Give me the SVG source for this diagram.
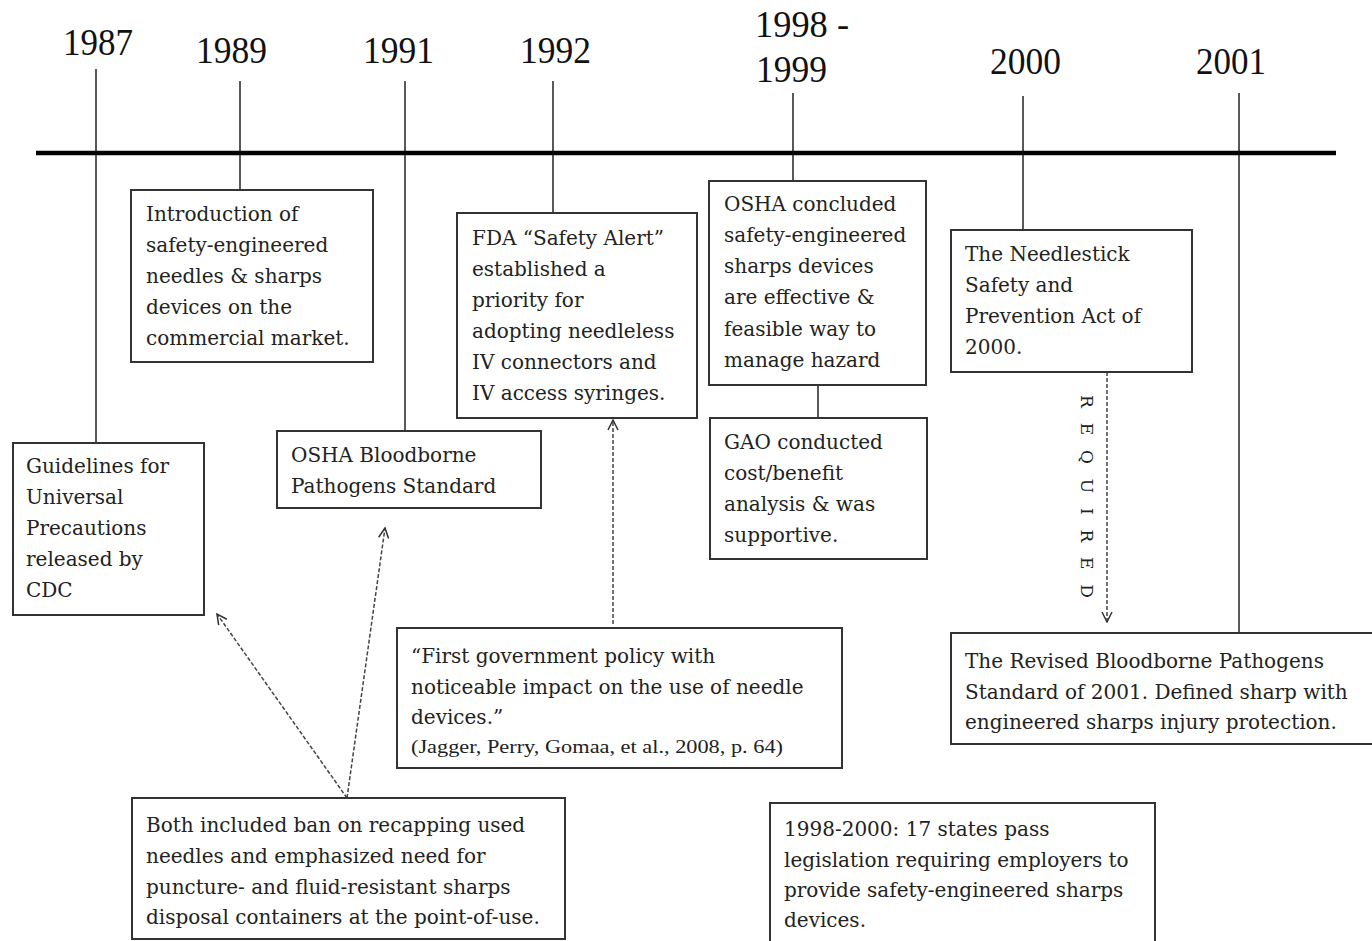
<svg xmlns="http://www.w3.org/2000/svg" width="1372" height="941" viewBox="0 0 1372 941">
<defs>
<style>
.yr{font-family:"Liberation Serif","Times New Roman",serif;font-size:38px;fill:#111}
.t{font-family:"DejaVu Serif","Liberation Serif",serif;font-size:20px;fill:#222}
.s{font-family:"Liberation Serif","Times New Roman",serif;font-size:18px;fill:#222}
.v{font-family:"DejaVu Serif","Liberation Serif",serif;font-size:17px;fill:#222}
.box{fill:#fff;stroke:#333;stroke-width:2}
.tick{stroke:#222;stroke-width:1.5;fill:none}
.dash{stroke:#444;stroke-width:1.5;fill:none;stroke-dasharray:4 2}
</style>
<marker id="arr" viewBox="0 0 12 12" refX="11" refY="6" markerWidth="12" markerHeight="12" markerUnits="userSpaceOnUse" orient="auto">
<path d="M1,1 L11,6 L1,11" fill="none" stroke="#333" stroke-width="1.5"/>
</marker>
</defs>
<rect width="1372" height="941" fill="#fff"/>

<g id="years">
<text class="yr" x="63" y="55" textLength="70" lengthAdjust="spacingAndGlyphs">1987</text>
<text class="yr" x="196" y="63" textLength="71" lengthAdjust="spacingAndGlyphs">1989</text>
<text class="yr" x="363" y="63" textLength="71" lengthAdjust="spacingAndGlyphs">1991</text>
<text class="yr" x="520" y="63" textLength="71" lengthAdjust="spacingAndGlyphs">1992</text>
<text class="yr" x="755" y="37" textLength="94" lengthAdjust="spacingAndGlyphs">1998 -</text>
<text class="yr" x="756" y="82" textLength="71" lengthAdjust="spacingAndGlyphs">1999</text>
<text class="yr" x="990" y="74" textLength="71" lengthAdjust="spacingAndGlyphs">2000</text>
<text class="yr" x="1196" y="74" textLength="70" lengthAdjust="spacingAndGlyphs">2001</text>
</g>

<g id="connectors">
<line x1="96" y1="69" x2="96" y2="443" class="tick"/>
<line x1="240" y1="81" x2="240" y2="190" class="tick"/>
<line x1="405" y1="81" x2="405" y2="431" class="tick"/>
<line x1="553" y1="81" x2="553" y2="213" class="tick"/>
<line x1="793" y1="93" x2="793" y2="181" class="tick"/>
<line x1="1023" y1="96" x2="1023" y2="230" class="tick"/>
<line x1="1239" y1="93" x2="1239" y2="633" class="tick"/>
<line x1="818" y1="385" x2="818" y2="418" class="tick"/>
<line x1="36" y1="153" x2="1336" y2="153" stroke="#000" stroke-width="4.5"/>
<line x1="1107" y1="372" x2="1107" y2="622" class="dash" marker-end="url(#arr)"/>
<line x1="613" y1="624" x2="613" y2="420" class="dash" marker-end="url(#arr)"/>
<line x1="347" y1="798" x2="217" y2="614" class="dash" marker-end="url(#arr)"/>
<line x1="347" y1="798" x2="385" y2="528" class="dash" marker-end="url(#arr)"/>
<text x="1081" y="395" transform="rotate(90 1081 395)" class="v" textLength="203" lengthAdjust="spacing">REQUIRED</text>
</g>

<g id="n1987">
<rect class="box" x="13" y="443" width="191" height="172"/>
<text class="t" x="26" y="473">Guidelines for</text>
<text class="t" x="26" y="504">Universal</text>
<text class="t" x="26" y="535">Precautions</text>
<text class="t" x="26" y="566">released by</text>
<text class="t" x="26" y="597">CDC</text>
</g>

<g id="n1989">
<rect class="box" x="131" y="190" width="242" height="172"/>
<text class="t" x="146" y="221">Introduction of</text>
<text class="t" x="146" y="252">safety-engineered</text>
<text class="t" x="146" y="283">needles &amp; sharps</text>
<text class="t" x="146" y="314">devices on the</text>
<text class="t" x="146" y="345">commercial market.</text>
</g>

<g id="n1991">
<rect class="box" x="277" y="431" width="264" height="77"/>
<text class="t" x="291" y="462">OSHA Bloodborne</text>
<text class="t" x="291" y="493">Pathogens Standard</text>
</g>

<g id="n1992">
<rect class="box" x="457" y="213" width="240" height="205"/>
<text class="t" x="472" y="245">FDA “Safety Alert”</text>
<text class="t" x="472" y="276">established a</text>
<text class="t" x="472" y="307">priority for</text>
<text class="t" x="472" y="338">adopting needleless</text>
<text class="t" x="472" y="369">IV connectors and</text>
<text class="t" x="472" y="400">IV access syringes.</text>
</g>

<g id="n1998">
<rect class="box" x="709" y="181" width="217" height="204"/>
<text class="t" x="724" y="211">OSHA concluded</text>
<text class="t" x="724" y="242">safety-engineered</text>
<text class="t" x="724" y="273">sharps devices</text>
<text class="t" x="724" y="304">are effective &amp;</text>
<text class="t" x="724" y="336">feasible way to</text>
<text class="t" x="724" y="367">manage hazard</text>
</g>

<g id="nGAO">
<rect class="box" x="710" y="418" width="217" height="141"/>
<text class="t" x="724" y="449">GAO conducted</text>
<text class="t" x="724" y="480">cost/benefit</text>
<text class="t" x="724" y="511">analysis &amp; was</text>
<text class="t" x="724" y="542">supportive.</text>
</g>

<g id="n2000">
<rect class="box" x="951" y="230" width="241" height="142"/>
<text class="t" x="965" y="261">The Needlestick</text>
<text class="t" x="965" y="292">Safety and</text>
<text class="t" x="965" y="323">Prevention Act of</text>
<text class="t" x="965" y="354">2000.</text>
</g>

<g id="n2001">
<rect class="box" x="951" y="633" width="424" height="111"/>
<text class="t" x="965" y="668">The Revised Bloodborne Pathogens</text>
<text class="t" x="965" y="699">Standard of 2001. Defined sharp with</text>
<text class="t" x="965" y="729">engineered sharps injury protection.</text>
</g>

<g id="nQuote">
<rect class="box" x="397" y="628" width="445" height="140"/>
<text class="t" x="411" y="663">“First government policy with</text>
<text class="t" x="411" y="694">noticeable impact on the use of needle</text>
<text class="t" x="411" y="724">devices.”</text>
<text class="s" x="411" y="753" textLength="372" lengthAdjust="spacingAndGlyphs">(Jagger, Perry, Gomaa, et al., 2008, p. 64)</text>
</g>

<g id="nBoth">
<rect class="box" x="132" y="798" width="433" height="141"/>
<text class="t" x="146" y="832">Both included ban on recapping used</text>
<text class="t" x="146" y="863">needles and emphasized need for</text>
<text class="t" x="146" y="894">puncture- and fluid-resistant sharps</text>
<text class="t" x="146" y="924">disposal containers at the point-of-use.</text>
</g>

<g id="nStates">
<rect class="box" x="770" y="803" width="385" height="145"/>
<text class="t" x="784" y="836">1998-2000: 17 states pass</text>
<text class="t" x="784" y="867">legislation requiring employers to</text>
<text class="t" x="784" y="897">provide safety-engineered sharps</text>
<text class="t" x="784" y="927">devices.</text>
</g>
</svg>
